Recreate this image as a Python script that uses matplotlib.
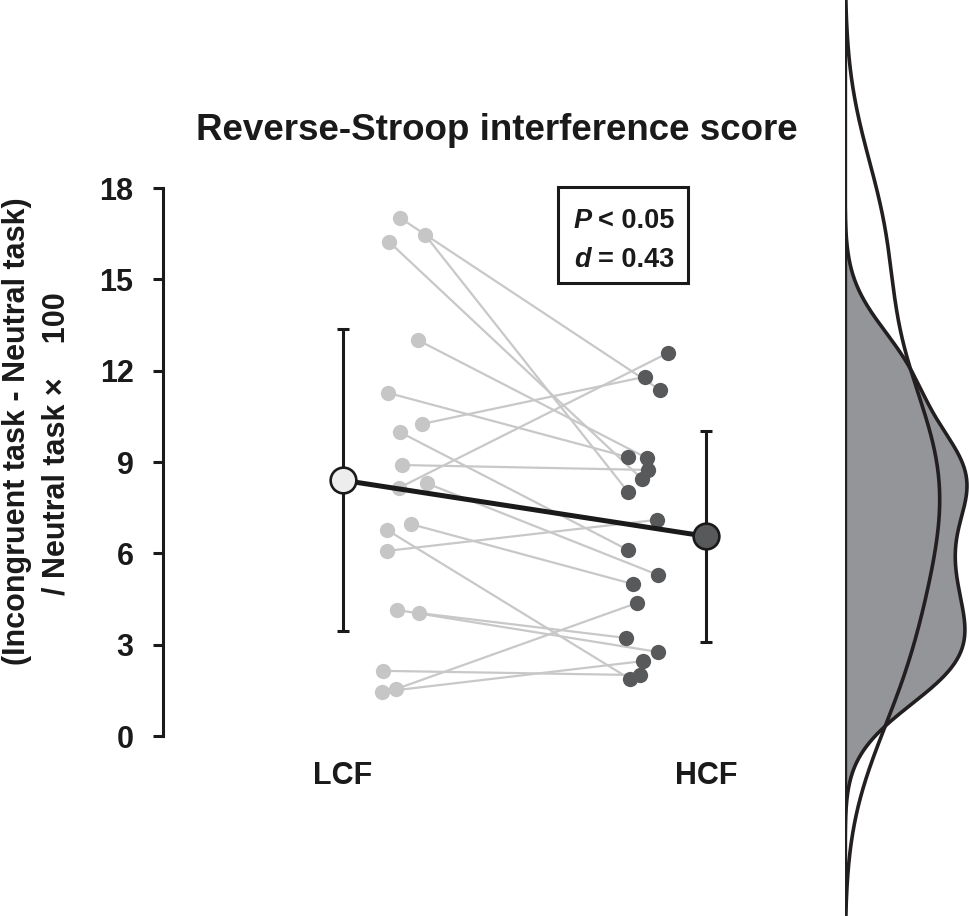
import matplotlib

matplotlib.use("Agg")
import matplotlib.pyplot as plt
import numpy as np
from matplotlib.patches import Rectangle

plt.rcParams["font.family"] = ["Liberation Sans", "DejaVu Sans"]
plt.rcParams["font.weight"] = "bold"

# paired scores (same order in both lists)
lcf = [17.02, 16.46, 16.23, 13.0, 11.27, 10.25, 9.98, 8.9, 8.15, 8.3,
       6.96, 6.77, 6.08, 4.14, 4.04, 2.14, 1.45, 1.54]
hcf = [11.37, 8.02, 8.44, 9.13, 9.16, 11.8, 6.11, 8.74, 12.58, 5.29,
       4.99, 1.87, 7.1, 2.76, 3.22, 2.0, 2.46, 4.37]
# horizontal jitter of the individual dots (category units, LCF=0, HCF=1)
lcf_x = [0.157, 0.226, 0.127, 0.207, 0.124, 0.218, 0.157, 0.163, 0.154, 0.231,
         0.187, 0.121, 0.121, 0.149, 0.209, 0.110, 0.107, 0.146]
hcf_x = [0.873, 0.785, 0.824, 0.837, 0.785, 0.832, 0.785, 0.840, 0.895, 0.868,
         0.799, 0.791, 0.865, 0.868, 0.780, 0.818, 0.826, 0.810]

groups = ["LCF", "HCF"]
means = [8.40, 6.56]
sds = [4.96, 3.47]
yticks = [0, 3, 6, 9, 12, 15, 18]

W, H = 969, 916


def fx(px):
    return px / W


def fy(py):
    return 1 - py / H


fig = plt.figure(figsize=(W / 100, H / 100), dpi=100)

# --- main panel ---
left, right, top, bottom = 163, 800, 188, 736
ax = fig.add_axes([fx(left), fy(bottom), fx(right - left), (bottom - top) / H])
ax.set_ylim(0, 18)
unit = 363.0  # px between the two group centres
ax.set_xlim(-(343 - left) / unit, (right - 343) / unit)

for lx, hx, l, h in zip(lcf_x, hcf_x, lcf, hcf):
    ax.plot([lx, hx], [l, h], color="#c8c8c8", lw=1.6, zorder=1,
            solid_capstyle="round")
ax.plot(lcf_x, lcf, "o", color="#c6c6c6", ms=11, mew=0, zorder=2)
ax.plot(hcf_x, hcf, "o", color="#58595b", ms=11, mew=0, zorder=2)

ax.plot([0, 1], means, color="#1a1a1a", lw=3.6, zorder=4)
ax.errorbar([0, 1], means, yerr=sds, fmt="none", ecolor="#1a1a1a",
            elinewidth=2.2, capsize=4, capthick=2.2, zorder=3)
ax.plot([0], [means[0]], "o", ms=18.5, mfc="#ededed", mec="#1a1a1a",
        mew=1.9, zorder=5)
ax.plot([1], [means[1]], "o", ms=18.5, mfc="#58595b", mec="#1a1a1a",
        mew=1.9, zorder=5)

for s in ("top", "right", "bottom"):
    ax.spines[s].set_visible(False)
ax.spines["left"].set_linewidth(2.2)
ax.spines["left"].set_color("#1a1a1a")
ax.set_yticks(yticks)
ax.tick_params(axis="y", length=7.2, width=2.2, color="#1a1a1a", pad=14,
               labelsize=22, labelcolor="#1a1a1a")
ax.set_xticks([0, 1])
ax.set_xticklabels(groups)
ax.tick_params(axis="x", length=0, pad=18, labelsize=22, labelcolor="#1a1a1a")
ax.patch.set_visible(False)

fig.text(fx(497), fy(140), "Reverse-Stroop interference score", ha="center",
         va="baseline", fontsize=26.5, fontweight="bold", color="#1a1a1a")

fig.text(fx(17), fy(431), "(Incongruent task - Neutral task)", rotation=90,
         ha="center", va="center", fontsize=22, fontweight="bold",
         color="#1a1a1a")
fig.text(fx(57), fy(444), "/ Neutral task \u00d7    100", rotation=90,
         ha="center", va="center", fontsize=22, fontweight="bold",
         color="#1a1a1a")

# stats box
fig.patches.append(Rectangle((fx(558), fy(283)), fx(688 - 558), (283 - 187) / H,
                             transform=fig.transFigure, fill=True, fc="white",
                             ec="#1a1a1a", lw=2.2, zorder=6))
for base, sym, rest in [(228, "P", "< 0.05"), (267, "d", "= 0.43")]:
    fig.text(fx(574), fy(base), sym, ha="left", va="baseline", fontsize=19.5,
             fontweight="bold", style="italic", color="#1a1a1a", zorder=7)
    fig.text(fx(674), fy(base), rest, ha="right", va="baseline", fontsize=19.5,
             fontweight="bold", color="#1a1a1a", zorder=7)

# --- density panel on the right, same value scale as the main axis ---
ppu = (bottom - top) / 18.0
dax = fig.add_axes([fx(845), 0, fx(W - 845), 1])
dax.set_ylim(-(H - bottom) / ppu, bottom / ppu)
grid = np.linspace(-8, 26, 800)


def kde(vals, bw):
    v = np.asarray(vals)
    h = bw * v.std(ddof=1) * len(v) ** (-0.2)
    z = (grid[:, None] - v[None, :]) / h
    return np.exp(-0.5 * z ** 2).sum(axis=1) / (len(v) * h * np.sqrt(2 * np.pi))


d_l = kde(lcf, 1.0)
d_h = kde(hcf, 0.8)
xmax = d_h.max() * (W - 845) / 122.0
dax.set_xlim(0, xmax)
dax.fill_betweenx(grid, 0, d_h, color="#939598", lw=0)
dax.plot(d_h, grid, color="#231f20", lw=2.6)
dax.plot(d_l, grid, color="#231f20", lw=2.6)
dax.axvline(0, color="#231f20", lw=2.4)
dax.axis("off")

fig.savefig("out.png", dpi=100)
